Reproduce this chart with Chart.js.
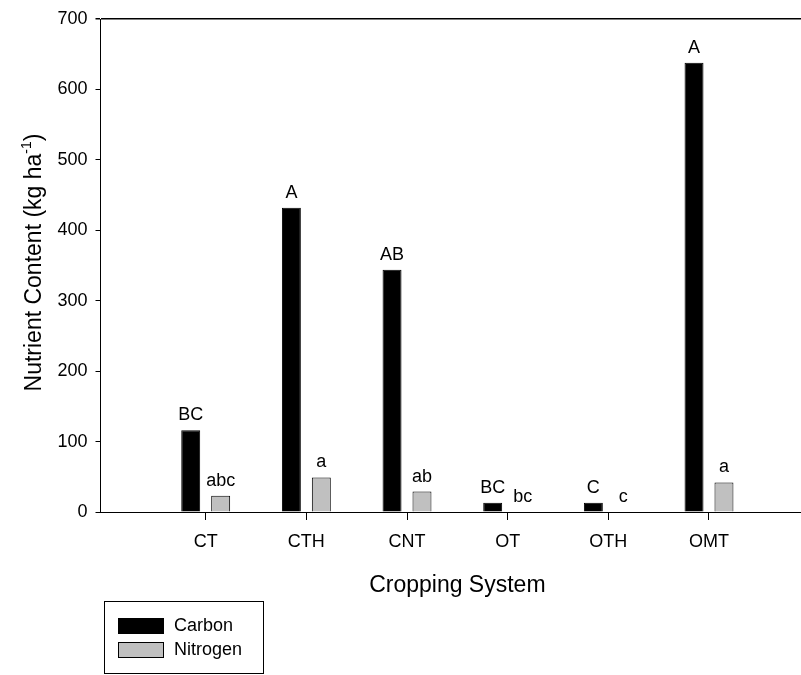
<!DOCTYPE html>
<html>
<head>
<meta charset="utf-8">
<script src="https://cdn.jsdelivr.net/npm/chart.js@4.4.1/dist/chart.umd.min.js"></script>
<style>
  html, body { margin: 0; padding: 0; background: #fff; overflow: hidden; }
  canvas { display: block; }
</style>
</head>
<body>
<canvas id="myChart" width="801" height="675"></canvas>
<script>
const categories = [ 'CT', 'CTH', 'CNT', 'OT', 'OTH', 'OMT' ];
const carbon = [ 116, 432, 344, 13, 13, 638 ];
const nitrogen = [ 23, 49, 29, 0, 0, 42 ];
const carbonLetters = [ 'BC', 'A', 'AB', 'BC', 'C', 'A' ];
const nitrogenLetters = [ 'abc', 'a', 'ab', 'bc', 'c', 'a' ];
const yMax = 700;
const yStep = 100;

const FONT = '"Liberation Sans", Arial, sans-serif';

// letters over bars, legend box and axis titles
const extras = {
    id: 'extras',
    afterDraw( chart )
    {
        const c = chart.ctx;
        const xs = chart.scales.x;
        const ys = chart.scales.y;
        c.save();
        c.fillStyle = '#000';

        // significance letters
        c.font = '18px ' + FONT;
        c.textAlign = 'center';
        c.textBaseline = 'alphabetic';
        const letters = [ carbonLetters, nitrogenLetters ];
        chart.data.datasets.forEach( ( ds, d ) =>
        {
            let meta = chart.getDatasetMeta( d );
            meta.data.forEach( ( bar, i ) =>
            {
                let top = ys.getPixelForValue( ds.data[ i ].y );
                c.fillText( letters[ d ][ i ], bar.x, top - 10 );
            } );
        } );

        // x title, centred on the categories
        c.font = '23px ' + FONT;
        c.textBaseline = 'middle';
        c.fillText( 'Cropping System', xs.getPixelForValue( ( categories.length - 1 ) / 2 ), 586 );

        // y title with superscript
        c.save();
        c.translate( 33, ( chart.chartArea.top + chart.chartArea.bottom ) / 2 - 3 );
        c.rotate( -Math.PI / 2 );
        let main = 'Nutrient Content (kg ha';
        let sup = '-1';
        let end = ')';
        c.font = '23px ' + FONT;
        let w1 = c.measureText( main ).width;
        let w3 = c.measureText( end ).width;
        c.font = '14px ' + FONT;
        let w2 = c.measureText( sup ).width;
        let start = -( w1 + w2 + w3 ) / 2;
        c.textAlign = 'left';
        c.textBaseline = 'alphabetic';
        c.font = '23px ' + FONT;
        c.fillText( main, start, 8 );
        c.font = '14px ' + FONT;
        c.fillText( sup, start + w1, -2 );
        c.font = '23px ' + FONT;
        c.fillText( end, start + w1 + w2, 8 );
        c.restore();

        // legend
        c.lineWidth = 1;
        c.strokeStyle = '#000';
        c.strokeRect( 104.5, 601.5, 159, 72 );
        c.font = '18px ' + FONT;
        c.textAlign = 'left';
        c.textBaseline = 'middle';
        chart.data.datasets.forEach( ( ds, d ) =>
        {
            let y = 618 + d * 24;
            c.fillStyle = ds.backgroundColor;
            c.fillRect( 118.5, y + 0.5, 45, 15 );
            c.strokeRect( 118.5, y + 0.5, 45, 15 );
            c.fillStyle = '#000';
            c.fillText( ds.label, 174, y + 8 );
        } );

        c.restore();
    }
};

const ctx = document.getElementById( 'myChart' );

new Chart( ctx, {
    type: 'bar',
    data: {
        datasets: [ {
            label: 'Carbon',
            data: carbon.map( ( v, i ) => ( { x: i, y: v } ) ),
            backgroundColor: '#000000',
            borderColor: '#000000',
            borderWidth: ( c ) => c.raw && c.raw.y > 0 ? 1 : 0,
        },
        {
            label: 'Nitrogen',
            data: nitrogen.map( ( v, i ) => ( { x: i, y: v } ) ),
            backgroundColor: '#c0c0c0',
            borderColor: '#000000',
            borderWidth: ( c ) => c.raw && c.raw.y > 0 ? 1 : 0,
        } ]
    },
    options: {
        responsive: false,
        animation: false,
        devicePixelRatio: 1,
        categoryPercentage: 0.595,
        barPercentage: 0.633,
        layout: { padding: { top: 19, left: 0, right: 0, bottom: 0 } },
        plugins: {
            legend: { display: false },
            tooltip: { enabled: false }
        },
        scales: {
            x: {
                type: 'linear',
                min: -1.045,
                max: 5.914,
                offset: false,
                afterBuildTicks: ( axis ) => { axis.ticks = categories.map( ( _, i ) => ( { value: i } ) ); },
                afterFit: ( axis ) => { axis.height = 163; },
                border: { display: true, color: '#000', width: 1 },
                grid: {
                    offset: false,
                    drawOnChartArea: false,
                    drawTicks: true,
                    tickLength: 8,
                    tickColor: '#000',
                    color: '#000'
                },
                ticks: {
                    autoSkip: false,
                    maxRotation: 0,
                    padding: 11,
                    color: '#000',
                    font: { family: FONT, size: 18 },
                    callback: ( v ) => categories[ v ]
                }
            },
            y: {
                min: 0,
                max: yMax,
                afterFit: ( axis ) => { axis.width = 100.5; },
                border: { display: true, color: '#000', width: 1 },
                grid: {
                    drawTicks: true,
                    tickLength: 5,
                    tickColor: '#000',
                    color: ( c ) => c.tick && c.tick.value === yMax ? '#000' : 'rgba(0,0,0,0)',
                    lineWidth: ( c ) => c.tick && c.tick.value === yMax ? 1.5 : 1
                },
                ticks: {
                    stepSize: yStep,
                    padding: 8,
                    color: '#000',
                    font: { family: FONT, size: 18 }
                }
            }
        }
    },
    plugins: [ extras ]
} );
</script>
</body>
</html>
